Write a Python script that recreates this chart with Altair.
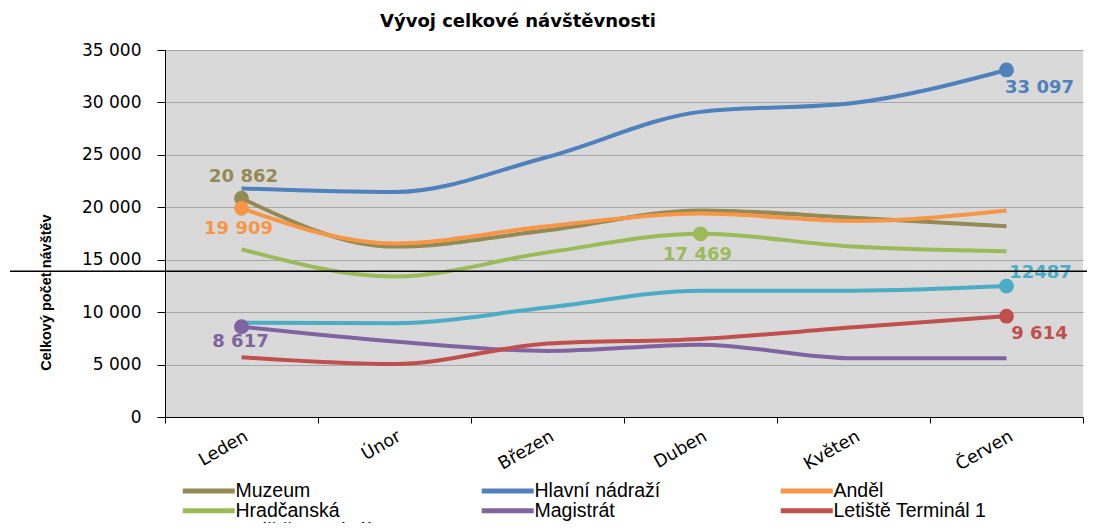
import altair as alt
import pandas as pd

months = ["Leden", "Únor", "Březen", "Duben", "Květen", "Červen"]
series_names = ["Muzeum", "Hlavní nádraží", "Anděl", "Hradčanská", "Magistrát",
                "Letiště Terminál 1", "Letiště Terminál 2"]
colors = ["#948A54", "#4F81BD", "#F79646", "#9BBB59", "#8064A2", "#C0504D", "#4BACC6"]

muzeum = [20862, 16250, 17800, 19700, 19000, 18200]
hlavni = [21800, 21450, 24800, 29100, 29950, 33097]
andel = [19909, 16550, 18200, 19400, 18700, 19700]
hradcanska = [16000, 13400, 15700, 17469, 16250, 15800]
magistrat = [8617, 7200, 6300, 6900, 5600, 5600]
terminal1 = [5700, 5050, 7000, 7450, 8550, 9614]
terminal2 = [9000, 8950, 10450, 12050, 12050, 12487]

label_series = ["Muzeum", "Anděl", "Hradčanská", "Magistrát", "Hlavní nádraží",
                "Letiště Terminál 1", "Letiště Terminál 2"]
label_months = ["Leden", "Leden", "Duben", "Leden", "Červen", "Červen", "Červen"]
label_texts = ["20 862", "19 909", "17 469", "8 617", "33 097", "9 614", "12487"]
label_place = ["above", "below", "below", "below_close", "below_right", "below_right", "above_right"]

divider_value = 13900

all_values = [muzeum, hlavni, andel, hradcanska, magistrat, terminal1, terminal2]
rows = []
for name, vals in zip(series_names, all_values):
    for m, v in zip(months, vals):
        rows.append({"serie": name, "mesic": m, "hodnota": v})
df = pd.DataFrame(rows)

lookup = {(r["serie"], r["mesic"]): r["hodnota"] for r in rows}
lab = pd.DataFrame({
    "serie": label_series,
    "mesic": label_months,
    "text": label_texts,
    "misto": label_place,
    "hodnota": [lookup[(s, m)] for s, m in zip(label_series, label_months)],
})

W, H = 918, 367
FONT = "Liberation Sans"
WIDE = "DejaVu Sans"

xenc = alt.X("mesic:N", sort=months, title=None,
             scale=alt.Scale(paddingInner=0, paddingOuter=0),
             axis=alt.Axis(labelAngle=-30, labelFontSize=17.5, labelFont=WIDE, labelColor="#000000",
                           tickBand="extent", tickSize=6, tickColor="#000000",
                           domainColor="#000000", labelPadding=4, grid=False))
yenc = alt.Y("hodnota:Q", title="Celkový počet návštěv",
             scale=alt.Scale(domain=[0, 35000], nice=False),
             axis=alt.Axis(values=list(range(0, 35001, 5000)), format=",d",
                           labelFontSize=17, labelFont=WIDE, labelColor="#000000",
                           tickSize=8, tickColor="#000000", domainColor="#000000",
                           labelPadding=16, gridColor="#A6A6A6", gridWidth=1,
                           titleFont=FONT, titleFontSize=14.5, titleFontWeight="bold",
                           titleColor="#000000", titleX=-112, titleY=242,
                           titleAngle=270, titleAlign="center", titleBaseline="bottom"))
color = alt.Color("serie:N", sort=series_names,
                  scale=alt.Scale(domain=series_names, range=colors),
                  legend=alt.Legend(title=None, orient="none", legendX=34, legendY=431,
                                    direction="horizontal", padding=0,
                                    columns=3, gridAlign="all", columnPadding=82,
                                    rowPadding=-5, symbolType="M-5.2,0H5.2", symbolSize=100,
                                    symbolStrokeWidth=5, labelFont=FONT, labelFontSize=19.5,
                                    labelColor="#000000", labelOffset=17, labelLimit=300))

base = alt.Chart(df)
lines = base.mark_line(strokeWidth=4, interpolate="monotone").encode(
    x=xenc, y=yenc, color=color, detail="serie:N")

lbase = alt.Chart(lab)
dots = lbase.mark_circle(size=220, opacity=1).encode(
    x=alt.X("mesic:N", sort=months), y="hodnota:Q",
    color=alt.Color("serie:N", scale=alt.Scale(domain=series_names, range=colors), legend=None))

def texts(place, dx, dy):
    return lbase.transform_filter(alt.datum.misto == place).mark_text(
        font=WIDE, fontSize=18, fontWeight="bold", dx=dx, dy=dy).encode(
        x=alt.X("mesic:N", sort=months), y="hodnota:Q", text="text:N",
        color=alt.Color("serie:N", scale=alt.Scale(domain=series_names, range=colors), legend=None))

t_above = texts("above", 2, -21)
t_below = texts("below", -3, 21)
t_below_close = texts("below_close", -1, 15)
t_below_right = texts("below_right", 33, 18)
t_above_right = texts("above_right", 34, -13)

divider = alt.Chart(pd.DataFrame({"v": [divider_value]})).mark_rule(
    color="#000000", strokeWidth=1.5).encode(
    y=alt.Y("v:Q"), x=alt.value(-155), x2=alt.value(W + 4))

chart = alt.layer(lines, dots, t_above, t_below, t_below_close, t_below_right, t_above_right,
                  divider).properties(
    width=W, height=H,
    title=alt.TitleParams("Vývoj celkové návštěvnosti", font=WIDE, fontSize=18,
                          fontWeight="bold", anchor="start", frame="group", dx=215, offset=10,
                          color="#000000"),
    autosize=alt.AutoSizeParams(type="none"),
    padding={"left": 157, "top": 42, "right": 4, "bottom": 106},
).configure(
    locale={"number": {"decimal": ",", "thousands": " ", "grouping": [3], "currency": ["", " Kč"]}}
).configure_view(fill="#D9D9D9", strokeWidth=0)

chart.save("out.html", embed_options={"renderer": "svg", "actions": False})
